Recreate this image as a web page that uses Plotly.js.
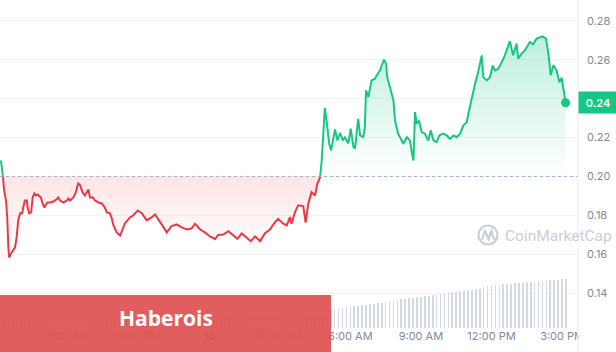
<!DOCTYPE html>
<html>
<head>
<meta charset="utf-8">
<script src="https://cdn.plot.ly/plotly-3.0.1.min.js"></script>
<style>html,body{margin:0;padding:0;background:#fff;}#chart{width:616px;height:352px;}</style>
</head>
<body>
<div id="chart"></div>
<script>
// ---- data (minutes after 15:00 on day 15) ----
const priceMinutes = [9,14,17,22,25,28,30,35,41,45,49,53,58,63,66,70,75,77,81,86,90,94,98,103,107,111,115,120,124,128,134,143,151,155,160,168,177,181,185,194,200,206,211,217,223,228,232,236,243,249,257,266,274,279,287,291,296,304,313,325,338,346,358,368,381,393,402,415,432,444,457,470,483,495,504,517,529,542,555,563,576,589,602,612,623,635,646,657,670,682,695,708,716,729,738,746,750,759,767,780,786,793,801,810,816,823,827,831,835,840,846,851,861,867,874,881,886,895,901,908,912,920,925,933,937,940,946,954,963,967,976,980,986,991,994,1001,1010,1014,1022,1031,1035,1044,1052,1059,1061,1065,1069,1075,1082,1090,1099,1105,1112,1120,1127,1137,1146,1154,1163,1171,1180,1188,1197,1201,1210,1218,1226,1235,1239,1248,1256,1263,1269,1277,1286,1294,1307,1315,1324,1328,1337,1345,1358,1366,1375,1383,1390,1399,1405,1411,1418,1426,1433,1439,1445,1449];
const priceValues = [0.2082,0.2000,0.1928,0.1876,0.1789,0.1635,0.1583,0.1604,0.1619,0.1635,0.1686,0.1774,0.1810,0.1810,0.1840,0.1876,0.1876,0.1840,0.1810,0.1815,0.1892,0.1912,0.1902,0.1907,0.1897,0.1892,0.1861,0.1840,0.1856,0.1866,0.1866,0.1871,0.1882,0.1892,0.1876,0.1866,0.1876,0.1887,0.1876,0.1892,0.1918,0.1964,0.1954,0.1918,0.1902,0.1918,0.1933,0.1892,0.1892,0.1876,0.1866,0.1861,0.1840,0.1815,0.1810,0.1789,0.1748,0.1712,0.1696,0.1758,0.1789,0.1799,0.1825,0.1811,0.1774,0.1789,0.1804,0.1765,0.1712,0.1745,0.1753,0.1738,0.1727,0.1732,0.1756,0.1727,0.1712,0.1691,0.1678,0.1699,0.1701,0.1718,0.1694,0.1679,0.1707,0.1688,0.1667,0.1691,0.1667,0.1707,0.1727,0.1765,0.1782,0.1757,0.1748,0.1791,0.1757,0.1816,0.1851,0.1846,0.1763,0.1861,0.1919,0.1902,0.1962,0.1997,0.2082,0.2220,0.2353,0.2278,0.2170,0.2134,0.2242,0.2185,0.2224,0.2185,0.2201,0.2170,0.2246,0.2151,0.2143,0.2297,0.2211,0.2202,0.2254,0.2443,0.2408,0.2494,0.2503,0.2520,0.2546,0.2571,0.2601,0.2580,0.2511,0.2460,0.2391,0.2288,0.2220,0.2185,0.2168,0.2202,0.2185,0.2099,0.2082,0.2331,0.2271,0.2288,0.2228,0.2220,0.2185,0.2237,0.2185,0.2177,0.2211,0.2220,0.2211,0.2194,0.2211,0.2202,0.2220,0.2262,0.2279,0.2323,0.2408,0.2477,0.2537,0.2623,0.2511,0.2494,0.2511,0.2571,0.2546,0.2554,0.2588,0.2623,0.2696,0.2623,0.2683,0.2606,0.2632,0.2649,0.2692,0.2680,0.2709,0.2717,0.2721,0.2709,0.2632,0.2521,0.2572,0.2546,0.2485,0.2508,0.2443,0.2379];
const openPrice = 0.20;

const volStartMinute = 10;
const volStepMinutes = 10;
const volumeValues = [0.80,0.80,0.81,0.81,0.82,0.82,0.82,0.83,0.83,0.83,0.84,0.84,0.84,0.85,0.85,0.85,0.85,0.86,0.86,0.86,0.86,0.87,0.87,0.87,0.87,0.88,0.88,0.88,0.88,0.89,0.89,0.89,0.89,0.90,0.90,0.90,0.90,0.91,0.91,0.91,0.91,0.92,0.92,0.92,0.92,0.93,0.93,0.93,0.93,0.94,0.94,0.94,0.94,0.95,0.95,0.95,0.95,0.96,0.96,0.96,0.96,0.97,0.97,0.97,0.97,0.98,0.98,0.98,0.98,0.99,0.99,0.99,0.99,1.00,1.00,1.00,1.00,1.01,1.01,1.01,1.01,1.02,1.02,1.02,
1.90,1.95,2.00,2.05,2.10,2.20,2.20,2.25,2.30,2.35,2.40,2.45,2.50,2.55,2.60,2.65,2.75,2.85,2.90,2.95,3.00,3.05,3.10,3.15,3.20,3.25,3.30,3.35,3.40,3.50,3.55,3.60,3.65,3.70,3.75,3.80,3.85,3.90,3.95,4.10,4.20,4.25,4.30,4.35,4.40,4.45,4.45,4.50,4.55,4.55,4.60,4.65,4.65,4.70,4.75,4.75,4.80,4.85,4.85,4.90,4.90];

const tickMinutes = [180,360,540,720,900,1080,1260,1440];
const tickLabels = ["6:00 PM","9:00 PM","<b>16</b>","3:00 AM","6:00 AM","9:00 AM","12:00 PM","3:00 PM"];
const priceTicks = [0.14,0.16,0.18,0.20,0.22,0.24,0.26,0.28];
const bannerText = "Haberois";
const watermarkText = "CoinMarketCap";

// ---- helpers ----
const BASE = Date.UTC(2025,2,15,15,0,0);
function toDate(m){ return new Date(BASE + Math.round(m*60000)).toISOString().slice(0,19).replace('T',' '); }
const PW = 578, PH = 328;
const px = x => x/PW, py = y => (PH - y)/PH;

// split at crossings of the open price
const pts = [];
for (let i=0;i<priceMinutes.length;i++){
  if (i>0){
    const a=priceValues[i-1]-openPrice, b=priceValues[i]-openPrice;
    if (a*b<0){
      const f=a/(a-b);
      pts.push({t:priceMinutes[i-1]+f*(priceMinutes[i]-priceMinutes[i-1]), v:openPrice});
    }
  }
  pts.push({t:priceMinutes[i], v:priceValues[i]});
}
const X = pts.map(p=>toDate(p.t));
const upper = pts.map(p=>Math.max(p.v,openPrice));
const lower = pts.map(p=>Math.min(p.v,openPrice));
const greenLine = pts.map(p=>p.v>=openPrice?p.v:null);
const redLine = pts.map(p=>p.v<=openPrice?p.v:null);
const baseLine = pts.map(()=>openPrice);

const GREEN='#16c784', RED='#ea3943';
const volX = volumeValues.map((_,i)=>toDate(volStartMinute+i*volStepMinutes));
const lastT = priceMinutes[priceMinutes.length-1], lastV = priceValues[priceValues.length-1];
const badgeText = lastV.toFixed(2);

const traces = [
  {x:volX, y:volumeValues, type:'bar', yaxis:'y2', marker:{color:'#d3d9e3', line:{width:0}}, width:volStepMinutes*60000*0.42, hoverinfo:'skip'},
  {x:X, y:baseLine, mode:'lines', line:{width:0}, hoverinfo:'skip'},
  {x:X, y:upper, mode:'lines', line:{width:0}, fill:'tonexty',
   fillgradient:{type:'vertical', start:openPrice, stop:0.272, colorscale:[[0,'rgba(22,199,132,0.0)'],[1,'rgba(22,199,132,0.28)']]}, hoverinfo:'skip'},
  {x:X, y:baseLine, mode:'lines', line:{width:0}, hoverinfo:'skip'},
  {x:X, y:lower, mode:'lines', line:{width:0}, fill:'tonexty',
   fillgradient:{type:'vertical', start:0.160, stop:openPrice, colorscale:[[0,'rgba(234,57,67,0.0)'],[1,'rgba(234,57,67,0.13)']]}, hoverinfo:'skip'},
  {x:X, y:greenLine, mode:'lines', line:{color:GREEN, width:2}, connectgaps:false, hoverinfo:'skip'},
  {x:X, y:redLine, mode:'lines', line:{color:RED, width:2}, connectgaps:false, hoverinfo:'skip'},
  {x:[toDate(lastT)], y:[lastV], mode:'markers', marker:{color:GREEN, size:9}, hoverinfo:'skip'}
];

const layout = {
  width:616, height:352,
  margin:{l:0, r:38, t:0, b:24},
  paper_bgcolor:'#ffffff', plot_bgcolor:'#ffffff',
  showlegend:false,
  font:{family:'Inter, Roboto, sans-serif', color:'#808a9d', size:11},
  xaxis:{type:'date', range:[toDate(6.6), toDate(1480.6)], tickvals:tickMinutes.map(toDate), ticktext:tickLabels,
         showgrid:false, zeroline:false, showline:false, ticks:'', tickfont:{size:11, color:'#808a9d'}, fixedrange:true},
  yaxis:{side:'right', range:[0.1220, 0.2908], tickvals:priceTicks,
         ticktext:priceTicks.map(v=>v.toFixed(2)===badgeText?'':v.toFixed(2)),
         showgrid:true, gridcolor:'#f1f3f6', gridwidth:1, zeroline:false, showline:false, ticks:'', ticklabelstandoff:8,
         tickfont:{size:11, color:'#808a9d'}, fixedrange:true},
  yaxis2:{overlaying:'y', range:[0, 32.8], visible:false, fixedrange:true},
  bargap:0,
  shapes:[
    {type:'line', xref:'paper', yref:'y', x0:0, x1:1, y0:openPrice, y1:openPrice, line:{color:'#a6aebb', width:1, dash:'dot'}, layer:'above'},
    {type:'rect', xref:'paper', yref:'paper', x0:1.001, x1:1.07, y0:-0.005, y1:-0.08, fillcolor:'#ffffff', line:{width:0}, layer:'above'},
    {type:'line', xref:'paper', yref:'paper', x0:1, x1:1, y0:-0.075, y1:1, line:{color:'#e8ebf0', width:1}, layer:'above'},
    {type:'circle', xref:'paper', yref:'paper', x0:px(478.5), x1:px(497.5), y0:py(244.5), y1:py(225.5), line:{color:'#c8cfda', width:2.2}, fillcolor:'rgba(0,0,0,0)', layer:'above'},
    {type:'path', xref:'paper', yref:'paper', path:`M ${px(482)},${py(240)} L ${px(485)},${py(231)} L ${px(488.5)},${py(239)} L ${px(491.5)},${py(231)} Q ${px(493.5)},${py(241)} ${px(496)},${py(239)}`, line:{color:'#c8cfda', width:2.2}, layer:'above'},
    {type:'rect', xref:'paper', yref:'paper', x0:0, x1:px(331), y0:py(295), y1:py(352), fillcolor:'rgba(224,82,82,0.93)', line:{width:0}, layer:'above'}
  ],
  annotations:[
    {xref:'paper', yref:'paper', x:px(503), y:py(236), xanchor:'left', yanchor:'middle', text:watermarkText, showarrow:false,
     font:{family:'Roboto, sans-serif', size:15.5, color:'#c8cfda'}},
    {xref:'paper', yref:'y', x:1, y:lastV, xanchor:'left', yanchor:'middle', text:badgeText, showarrow:false,
     bgcolor:GREEN, width:34, height:17, borderpad:2, font:{family:'Inter, sans-serif', size:11, color:'#ffffff', weight:600}},
    {xref:'paper', yref:'paper', x:px(166), y:py(318), xanchor:'center', yanchor:'middle', text:'<b>'+bannerText+'</b>', showarrow:false,
     font:{family:'Open Sans, sans-serif', size:21, color:'#ffffff'}}
  ]
};

Plotly.newPlot('chart', traces, layout, {staticPlot:true, displayModeBar:false});
</script>
</body>
</html>
